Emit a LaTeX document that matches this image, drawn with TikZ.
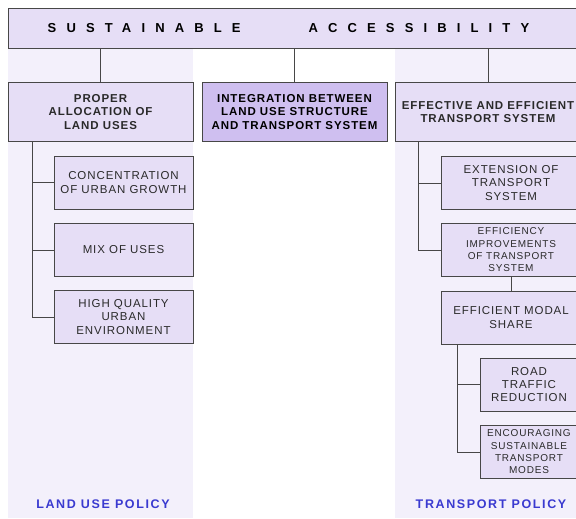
\documentclass[tikz,border=0pt]{standalone}
\usepackage{fontspec}
\setmainfont{Liberation Sans}
\newfontfamily\boxfont{Liberation Sans}[LetterSpace=8]
\newfontfamily\captionfont{Liberation Sans}[LetterSpace=13]
\newfontfamily\bannerfont{Liberation Sans}[LetterSpace=78]

\definecolor{panelfill}{HTML}{F3F0FB}
\definecolor{boxfill}{HTML}{E6DEF6}
\definecolor{keyfill}{HTML}{CFBFF0}
\definecolor{linegray}{HTML}{474747}
\definecolor{textgray}{HTML}{2A2A2A}
\definecolor{policyblue}{HTML}{3A3AD0}

\begin{document}
\begin{tikzpicture}[x=1pt, y=-1pt,
  box/.style={draw=linegray, line width=1pt, fill=boxfill, inner sep=0pt,
    align=center, text=textgray,
    font=\boxfont\fontsize{11.5}{13.3}\selectfont},
  smalltext/.style={font=\boxfont\fontsize{10}{12.3}\selectfont},
  headbox/.style={box, minimum width=185, minimum height=59,
    font=\boxfont\bfseries\fontsize{11.5}{13.3}\selectfont},
  subbox/.style={box, minimum width=139, minimum height=53},
  leafbox/.style={box, minimum width=98, minimum height=53},
  link/.style={draw=linegray, line width=1pt},
  policy/.style={text=policyblue, inner sep=0pt,
    font=\captionfont\bfseries\fontsize{12.5}{14}\selectfont}
]
\useasboundingbox (0,0) rectangle (576,519);
\clip (0,0) rectangle (576,519);

% policy columns
\fill[panelfill] (8,48) rectangle (193,518);
\fill[panelfill] (395,48) rectangle (576,518);

% title banner (the trailing kern moves the spaced title a little left)
\node[box, minimum width=572, minimum height=40, text=black,
  font=\bannerfont\bfseries\fontsize{13}{15}\selectfont]
  (banner) at (294,28.5) {SUSTAINABLE\hspace{68pt}ACCESSIBILITY\kern11pt};

% first level
\node[headbox] (land) at (100.5,112) {PROPER\\ALLOCATION OF\\LAND USES};
\node[headbox, fill=keyfill, text=black] (integ) at (294.5,112)
  {INTEGRATION BETWEEN\\LAND USE STRUCTURE\\AND TRANSPORT SYSTEM};
\node[headbox, minimum width=186] (trans) at (488,112)
  {EFFECTIVE AND EFFICIENT\\TRANSPORT SYSTEM};

% land use branch
\node[subbox] (conc) at (123.5,182.5) {CONCENTRATION\\OF URBAN GROWTH};
\node[subbox] (mix)  at (123.5,250)   {MIX OF USES};
\node[subbox] (qual) at (123.5,317)   {HIGH QUALITY\\URBAN\\ENVIRONMENT};

% transport branch
\node[subbox, minimum width=140] (ext)   at (511,183)   {EXTENSION OF\\TRANSPORT\\SYSTEM};
\node[subbox, minimum width=140, smalltext]
  (eff) at (511,250) {EFFICIENCY\\IMPROVEMENTS\\OF TRANSPORT\\SYSTEM};
\node[subbox, minimum width=140] (modal) at (511,317.5) {EFFICIENT MODAL\\SHARE};
\node[leafbox] (road) at (529,384.5) {ROAD\\TRAFFIC\\REDUCTION};
\node[leafbox, smalltext]
  (enc) at (529,452) {ENCOURAGING\\SUSTAINABLE\\TRANSPORT\\MODES};

% connectors from the banner
\draw[link] (land.north)  -- (land.north |- banner.south);
\draw[link] (integ.north) -- (integ.north |- banner.south);
\draw[link] (trans.north) -- (trans.north |- banner.south);

% land use tree
\coordinate (lt) at (32,141.5);
\draw[link] (lt) |- (qual.west);
\draw[link] (lt |- conc.west) -- (conc.west);
\draw[link] (lt |- mix.west)  -- (mix.west);

% transport tree
\coordinate (tt) at (418,141.5);
\draw[link] (tt) |- (eff.west);
\draw[link] (tt |- ext.west) -- (ext.west);
\draw[link] (eff.south) -- (modal.north);
\coordinate (mt) at (457,344);
\draw[link] (mt) |- (enc.west);
\draw[link] (mt |- road.west) -- (road.west);

% policy captions
\node[policy] (lup) at (103,504) {LAND USE POLICY};
\node[policy] (tp)  at (491,504) {TRANSPORT POLICY};
\end{tikzpicture}
\end{document}
